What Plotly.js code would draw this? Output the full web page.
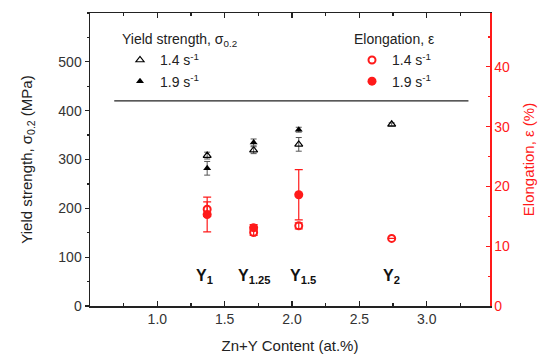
<!DOCTYPE html>
<html>
<head>
<meta charset="utf-8">
<script src="https://cdn.plot.ly/plotly-3.0.1.min.js"></script>
<style>html,body{margin:0;padding:0;background:#fff;}#chart{width:540px;height:360px;}</style>
</head>
<body>
<div id="chart"></div>
<script>
// Zn+Y content (at.%) for the four alloys
const xContent = [1.37, 1.715, 2.05, 2.74];
const alloyLabels = ['Y<sub>1</sub>', 'Y<sub>1.25</sub>', 'Y<sub>1.5</sub>', 'Y<sub>2</sub>'];
const labelX = [1.35, 1.72, 2.08, 2.74];
const labelY = [60, 60, 60, 60];
// Yield strength (MPa)
const ys14 = [308, 319, 331, 372];
const ys14Err = [7, 7, 14, 3];
const ys19 = [282, 335, 361, null];
const ys19Err = [14, 7, 5, null];
// Elongation (%)
const el14 = [16.2, 12.3, 13.4, 11.3];
const el14Err = [1.2, 0.5, 0.5, 0];
const el19 = [15.3, 13.1, 18.6, null];
const el19Err = [2.9, 0.5, 4.2, null];
// reference line
const refLineX = [0.68, 3.31];
const refLineY = 420;

const RED = '#ff1a1a';
const FONT = 'Liberation Sans, Arial, sans-serif';

const traces = [
  {x: xContent, y: ys14, type: 'scatter', mode: 'markers', name: '1.4 s<sup>-1</sup>',
   legend: 'legend',
   marker: {symbol: 'triangle-up-open', size: 7, color: '#000', line: {width: 1.2}},
   error_y: {type: 'data', array: ys14Err, visible: true, color: '#555', thickness: 1, width: 3}},
  {x: xContent, y: ys19, type: 'scatter', mode: 'markers', name: '1.9 s<sup>-1</sup>',
   legend: 'legend',
   marker: {symbol: 'triangle-up', size: 7, color: '#000'},
   error_y: {type: 'data', array: ys19Err, visible: true, color: '#555', thickness: 1, width: 3}},
  {x: xContent, y: el14, type: 'scatter', mode: 'markers', name: '1.4 s<sup>-1</sup>', yaxis: 'y2',
   legend: 'legend2',
   marker: {symbol: 'circle-open', size: 7, color: RED, line: {width: 2}},
   error_y: {type: 'data', array: el14Err, visible: true, color: RED, thickness: 1.2, width: 4}},
  {x: xContent, y: el19, type: 'scatter', mode: 'markers', name: '1.9 s<sup>-1</sup>', yaxis: 'y2',
   legend: 'legend2',
   marker: {symbol: 'circle', size: 9, color: RED},
   error_y: {type: 'data', array: el19Err, visible: true, color: RED, thickness: 1.2, width: 4}}
];

const annotations = alloyLabels.map((t, i) => ({
  x: labelX[i], y: labelY[i], xref: 'x', yref: 'y', text: '<b>' + t + '</b>',
  showarrow: false, font: {family: FONT, size: 16, color: '#111'}
}));

const layout = {
  width: 540, height: 360,
  margin: {l: 90, r: 50, t: 13, b: 54},
  paper_bgcolor: '#fff', plot_bgcolor: '#fff',
  font: {family: FONT, size: 14, color: '#222'},
  xaxis: {
    range: [0.5, 3.47], tickvals: [1, 1.5, 2, 2.5, 3], ticktext: ['1.0', '1.5', '2.0', '2.5', '3.0'],
    ticks: 'inside', ticklen: 5, tickwidth: 1.2, tickcolor: '#222',
    minor: {dtick: 0.25, tick0: 0.5, ticks: 'inside', ticklen: 3, tickcolor: '#222'},
    showline: true, linecolor: '#222', linewidth: 1.5, mirror: 'ticks',
    showgrid: false, zeroline: false,
    title: {text: 'Zn+Y Content (at.%)', font: {size: 15, color: '#222'}, standoff: 14},
    tickfont: {size: 14, color: '#333'}
  },
  yaxis: {
    range: [0, 600], tickvals: [0, 100, 200, 300, 400, 500],
    ticks: 'outside', ticklen: 4, tickwidth: 1.2, tickcolor: '#222',
    minor: {dtick: 50, ticks: 'outside', ticklen: 2, tickcolor: '#222'},
    showline: true, linecolor: '#222', linewidth: 1.5,
    showgrid: false, zeroline: false,
    title: {text: 'Yield strength, σ<sub>0.2</sub> (MPa)', font: {size: 15, color: '#222'}, standoff: 22},
    tickfont: {size: 14, color: '#333'}
  },
  yaxis2: {
    overlaying: 'y', side: 'right', range: [0, 49], tickvals: [0, 10, 20, 30, 40],
    ticks: 'inside', ticklen: 4, tickwidth: 1.2, tickcolor: RED,
    minor: {dtick: 5, ticks: 'inside', ticklen: 2, tickcolor: RED},
    showline: true, linecolor: RED, linewidth: 1.5,
    showgrid: false, zeroline: false,
    title: {text: 'Elongation, ε (%)', font: {size: 15, color: RED}, standoff: 14},
    tickfont: {size: 14, color: RED}
  },
  legend: {
    x: 0.075, y: 0.955, xanchor: 'left', yanchor: 'top',
    bgcolor: 'rgba(0,0,0,0)', borderwidth: 0,
    title: {text: 'Yield strength, σ<sub>0.2</sub>', side: 'top', font: {size: 14, color: '#222'}},
    font: {size: 14, color: '#222'}, tracegroupgap: 0
  },
  legend2: {
    x: 0.655, y: 0.955, xanchor: 'left', yanchor: 'top',
    bgcolor: 'rgba(0,0,0,0)', borderwidth: 0,
    title: {text: 'Elongation, ε', side: 'top', font: {size: 14, color: '#222'}},
    font: {size: 14, color: '#222'}, tracegroupgap: 0
  },
  showlegend: true,
  shapes: [{type: 'line', xref: 'x', yref: 'y', x0: refLineX[0], x1: refLineX[1], y0: refLineY, y1: refLineY,
            line: {color: '#222', width: 1.2}}],
  annotations: annotations
};

Plotly.newPlot('chart', traces, layout, {displayModeBar: false, staticPlot: true});
</script>
</body>
</html>
